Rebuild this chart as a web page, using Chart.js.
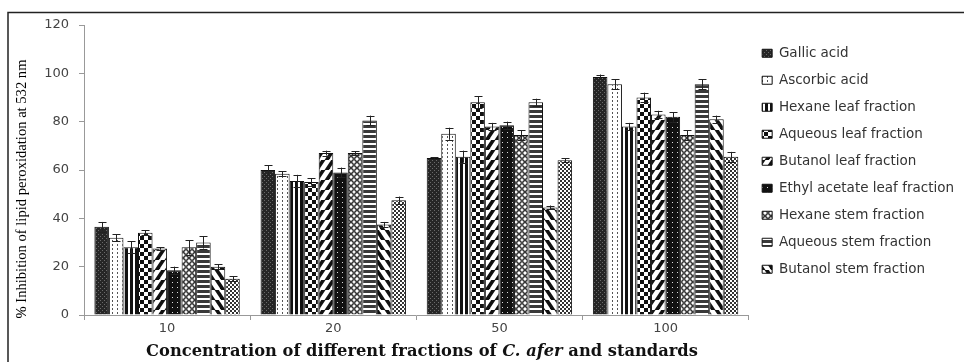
<!DOCTYPE html>
<html>
<head>
<meta charset="utf-8">
<title>Lipid peroxidation inhibition</title>
<script src="https://cdn.jsdelivr.net/npm/chart.js@4.4.1/dist/chart.umd.min.js"></script>
<style>
  html, body { margin: 0; padding: 0; background: #fff; }
  #wrap { width: 964px; height: 362px; }
</style>
</head>
<body>
<div id="wrap"><canvas id="myChart" width="964" height="362"></canvas></div>
<script>
// categories (concentration) and y ticks
const categories = ['10', '20', '50', '100'];
const yTicks = [0, 20, 40, 60, 80, 100, 120];

const seriesNames = [
    'Gallic acid',
    'Ascorbic acid',
    'Hexane leaf fraction',
    'Aqueous leaf fraction',
    'Butanol leaf fraction',
    'Ethyl acetate leaf fraction',
    'Hexane stem fraction',
    'Aqueous stem fraction',
    'Butanol stem fraction',
    'Ethyl acetate stem fraction'   // not shown in the legend of the original
];

// % inhibition values, one array per series
const gallicAcid   = [36.5, 60, 65, 98.5];
const ascorbicAcid = [32, 58.5, 75, 95.5];
const hexaneLeaf   = [28, 55.5, 65.5, 78];
const aqueousLeaf  = [34, 55, 88, 90];
const butanolLeaf  = [27.5, 67, 78, 83];
const ethylLeaf    = [18.5, 59, 78.5, 82];
const hexaneStem   = [28, 67, 74.5, 74.5];
const aqueousStem  = [30, 80.5, 88, 95.5];
const butanolStem  = [20, 37.5, 44.5, 81];
const ethylStem    = [15, 47.5, 64, 65.5];

// error bar half lengths
const gallicErr   = [2, 2, 0.3, 1];
const ascorbicErr = [1.5, 1, 2.5, 2];
const hexLeafErr  = [2.5, 2.5, 2.5, 1.5];
const aqLeafErr   = [1, 1.5, 2.5, 2];
const butLeafErr  = [0.5, 1, 1.5, 1.5];
const ethLeafErr  = [1.5, 2, 1.5, 2];
const hexStemErr  = [3, 0.8, 2, 2];
const aqStemErr   = [2.5, 2, 1.5, 2];
const butStemErr  = [1, 1, 0.8, 1.5];
const ethStemErr  = [1, 1.5, 0.8, 2];

const allValues = [gallicAcid, ascorbicAcid, hexaneLeaf, aqueousLeaf, butanolLeaf,
                   ethylLeaf, hexaneStem, aqueousStem, butanolStem, ethylStem];
const allErrors = [gallicErr, ascorbicErr, hexLeafErr, aqLeafErr, butLeafErr,
                   ethLeafErr, hexStemErr, aqStemErr, butStemErr, ethStemErr];

const canvas = document.getElementById('myChart');
const ctx = canvas.getContext('2d');

// small tiles for the black & white fill patterns
function makePattern(w, h, draw) {
    const c = document.createElement('canvas');
    c.width = w; c.height = h;
    const g = c.getContext('2d');
    g.fillStyle = '#fff';
    g.fillRect(0, 0, w, h);
    draw(g, w, h);
    return ctx.createPattern(c, 'repeat');
}

function diagonal(dir) {
    return makePattern(10, 10, (g) => {
        g.strokeStyle = '#111';
        g.lineWidth = 3.6;
        for (let k = -10; k <= 20; k += 10) {
            g.beginPath();
            if (dir > 0) { g.moveTo(k - 10, 20); g.lineTo(k + 10, -10); }
            else { g.moveTo(k - 10, -10); g.lineTo(k + 10, 20); }
            g.stroke();
        }
    });
}

const patterns = [
    makePattern(4, 4, (g) => {           // gallic: dark fine texture
        g.fillStyle = '#262626'; g.fillRect(0, 0, 4, 4);
        g.fillStyle = '#6a6a6a'; g.fillRect(0, 0, 1, 1); g.fillRect(2, 2, 1, 1);
    }),
    makePattern(5, 4, (g) => {           // ascorbic: dotted verticals
        g.fillStyle = '#555'; g.fillRect(2, 0, 1, 2);
    }),
    makePattern(5, 1, (g) => {           // hexane leaf: vertical stripes
        g.fillStyle = '#111'; g.fillRect(0, 0, 3, 1);
    }),
    makePattern(8, 8, (g) => {           // aqueous leaf: checkerboard
        g.fillStyle = '#111'; g.fillRect(0, 0, 4, 4); g.fillRect(4, 4, 4, 4);
    }),
    diagonal(1),                          // butanol leaf: / stripes
    makePattern(5, 5, (g) => {           // ethyl acetate leaf: black with dots
        g.fillStyle = '#111'; g.fillRect(0, 0, 5, 5);
        g.fillStyle = '#ddd'; g.fillRect(2, 2, 1, 1);
    }),
    makePattern(6, 6, (g) => {           // hexane stem: rings
        g.strokeStyle = '#222'; g.lineWidth = 1.2;
        g.beginPath(); g.arc(3, 3, 2.3, 0, Math.PI * 2); g.stroke();
    }),
    makePattern(1, 5, (g) => {           // aqueous stem: horizontal stripes
        g.fillStyle = '#3a3a3a'; g.fillRect(0, 0, 1, 3);
    }),
    diagonal(-1),                         // butanol stem: \ stripes
    makePattern(4, 4, (g) => {           // ethyl acetate stem: small checker
        g.fillStyle = '#333'; g.fillRect(0, 0, 2, 2); g.fillRect(2, 2, 2, 2);
    })
];

const datasets = seriesNames.map((name, i) => ({
    label: name,
    data: allValues[i],
    errors: allErrors[i],
    backgroundColor: patterns[i],
    borderColor: '#111',
    borderWidth: 1,
    categoryPercentage: 0.875,
    barPercentage: 1.0
}));

const errorBars = {
    id: 'errorBars',
    afterDatasetsDraw(chart) {
        const c = chart.ctx;
        const y = chart.scales.y;
        c.save();
        c.strokeStyle = '#222';
        c.lineWidth = 1;
        chart.data.datasets.forEach((ds, i) => {
            const meta = chart.getDatasetMeta(i);
            meta.data.forEach((bar, j) => {
                const e = ds.errors[j];
                if (!e) return;
                const v = ds.data[j];
                const top = y.getPixelForValue(v + e);
                const bot = y.getPixelForValue(v - e);
                const x = Math.round(bar.x) + 0.5;
                c.beginPath();
                c.moveTo(x, top); c.lineTo(x, bot);
                c.moveTo(x - 4, Math.round(top) + 0.5); c.lineTo(x + 4, Math.round(top) + 0.5);
                c.moveTo(x - 4, Math.round(bot) + 0.5); c.lineTo(x + 4, Math.round(bot) + 0.5);
                c.stroke();
            });
        });
        c.restore();
    }
};

// white background, frame lines and the two axis titles
const decorations = {
    id: 'decorations',
    beforeDraw(chart) {
        const c = chart.ctx;
        c.save();
        c.fillStyle = '#fff';
        c.fillRect(0, 0, chart.width, chart.height);
        c.strokeStyle = '#222';
        c.lineWidth = 1.5;
        c.beginPath();
        c.moveTo(8, 362); c.lineTo(8, 12.5); c.lineTo(964, 12.5);
        c.stroke();
        c.restore();
    },
    afterDraw(chart) {
        const c = chart.ctx;
        c.save();
        // y title
        c.translate(22, 189);
        c.rotate(-Math.PI / 2);
        c.fillStyle = '#000';
        c.font = '14.6px "Liberation Serif"';
        c.textAlign = 'center';
        c.textBaseline = 'middle';
        c.fillText('% Inhibition of lipid peroxidation at 532 nm', 0, 0);
        c.restore();

        // x title with italic species name
        const f = '16.3px "DejaVu Serif"';
        const parts = [
            ['Concentration of different fractions of ', 'bold ' + f],
            ['C. afer', 'italic bold ' + f],
            [' and standards', 'bold ' + f]
        ];
        c.save();
        c.fillStyle = '#111';
        c.textBaseline = 'alphabetic';
        let total = 0;
        parts.forEach(p => { c.font = p[1]; total += c.measureText(p[0]).width; });
        let x = 422 - total / 2;
        parts.forEach(p => {
            c.font = p[1];
            c.fillText(p[0], x, 356);
            x += c.measureText(p[0]).width;
        });
        c.restore();
    }
};

Chart.defaults.font.family = '"DejaVu Sans"';

const chart = new Chart(ctx, {
    type: 'bar',
    data: {
        labels: categories,
        datasets: datasets
    },
    options: {
        responsive: false,
        animation: false,
        devicePixelRatio: 1,
        layout: {
            padding: { top: 25, right: 0, bottom: 0, left: 0 }
        },
        plugins: {
            tooltip: { enabled: false },
            legend: {
                position: 'right',
                align: 'start',
                maxWidth: 218,
                title: { display: true, text: ' ', font: { size: 5 }, padding: { top: 2, bottom: 0 } },
                labels: {
                    boxWidth: 10,
                    boxHeight: 8,
                    padding: 13.5,
                    color: '#333',
                    font: { size: 13.5, family: '"DejaVu Sans"' },
                    filter: (item) => item.datasetIndex < 9
                }
            }
        },
        scales: {
            x: {
                grid: { drawOnChartArea: false, drawTicks: true, tickLength: 5, color: '#999' },
                border: { color: '#999' },
                ticks: { color: '#444', font: { size: 13 }, padding: 1 },
                afterFit: (scale) => { scale.height = 47; }
            },
            y: {
                min: 0,
                max: 120,
                afterBuildTicks: (scale) => { scale.ticks = yTicks.map(v => ({ value: v })); },
                grid: { drawOnChartArea: false, drawTicks: true, tickLength: 5, color: '#999' },
                border: { color: '#999' },
                ticks: { color: '#444', font: { size: 13 }, padding: 10 },
                afterFit: (scale) => { scale.width = 84; }
            }
        }
    },
    plugins: [errorBars, decorations]
});
</script>
</body>
</html>
